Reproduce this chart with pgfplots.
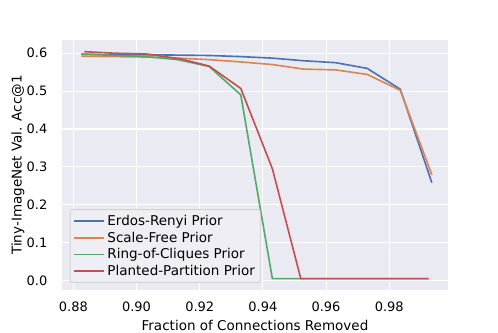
\documentclass[border=0pt]{standalone}
\usepackage{pgfplots}
\pgfplotsset{compat=1.18}
\usepackage{fontspec}
\setmainfont{DejaVu Sans}

\definecolor{sbblue}{HTML}{4C72B0}
\definecolor{sborange}{HTML}{DD8452}
\definecolor{sbgreen}{HTML}{55A868}
\definecolor{sbred}{HTML}{C44E52}
\definecolor{sbbg}{HTML}{EAEAF2}
\definecolor{legbg}{HTML}{EEEEF4}

\begin{document}
\begin{tikzpicture}
% canvas of 498x332 px, 1px = 0.9254pt
\path[use as bounding box] (0pt,0pt) rectangle (460.85pt,307.24pt);
\begin{axis}[
    at={(57.37pt,38.87pt)}, anchor=south west,
    scale only axis,
    width=357.2pt, height=231.4pt,
    xmin=0.8764, xmax=0.9986,
    ymin=-0.025, ymax=0.635,
    axis background/.style={fill=sbbg},
    axis line style={draw=none},
    grid=major,
    major grid style={white, line width=1pt},
    tick style={draw=none},
    xtick={0.88,0.90,...,0.98},
    ytick={0,0.1,...,0.6},
    /pgf/number format/assume math mode=true,
    ticklabel style={font=\fontsize{12}{14}\selectfont},
    xticklabel style={yshift=-7pt, /pgf/number format/.cd, fixed, fixed zerofill, precision=2},
    yticklabel style={xshift=-10pt, /pgf/number format/.cd, fixed, fixed zerofill, precision=1},
    label style={font=\fontsize{12.5}{15}\selectfont},
    xlabel={Fraction of Connections Removed},
    ylabel={Tiny-ImageNet Val. Acc@1},
    xlabel style={at={(axis description cs:0.5,-0.14)}, anchor=center},
    ylabel style={at={(axis description cs:-0.114,0.5)}, anchor=center},
    legend style={font=\fontsize{12.5}{15}\selectfont, fill=legbg,
        draw=black!18, line width=0.8pt, rounded corners=2pt, at={(0.02,0.028)}, anchor=south west,
        row sep=0.5pt, inner sep=3pt},
    legend cell align=left,
    legend image code/.code={\draw[#1, line width=1.5pt] (0pt,0pt) -- (28pt,0pt);},
    every axis plot/.append style={line width=1.5pt},
]
\addplot[sbblue] coordinates {
(0.8825,0.597) (0.893,0.596) (0.903,0.596) (0.913,0.595) (0.923,0.594) (0.933,0.591)
(0.943,0.587) (0.953,0.580) (0.963,0.575) (0.973,0.560) (0.9835,0.505) (0.9935,0.258)
};
\addlegendentry{Erdos-Renyi Prior}
\addplot[sborange] coordinates {
(0.8825,0.592) (0.893,0.591) (0.903,0.590) (0.913,0.587) (0.923,0.583) (0.933,0.577)
(0.943,0.570) (0.953,0.558) (0.963,0.556) (0.973,0.544) (0.9835,0.502) (0.9935,0.279)
};
\addlegendentry{Scale-Free Prior}
\addplot[sbgreen] coordinates {
(0.8825,0.598) (0.893,0.594) (0.903,0.591) (0.913,0.583) (0.923,0.565) (0.933,0.490)
(0.943,0.005) (0.953,0.005) (0.963,0.005) (0.973,0.005) (0.983,0.005) (0.9925,0.005)
};
\addlegendentry{Ring-of-Cliques Prior}
\addplot[sbred] coordinates {
(0.8835,0.604) (0.893,0.600) (0.903,0.598) (0.914,0.585) (0.923,0.566) (0.933,0.507)
(0.943,0.295) (0.952,0.005) (0.963,0.005) (0.973,0.005) (0.983,0.005) (0.9925,0.005)
};
\addlegendentry{Planted-Partition Prior}
\end{axis}
\end{tikzpicture}
\end{document}
